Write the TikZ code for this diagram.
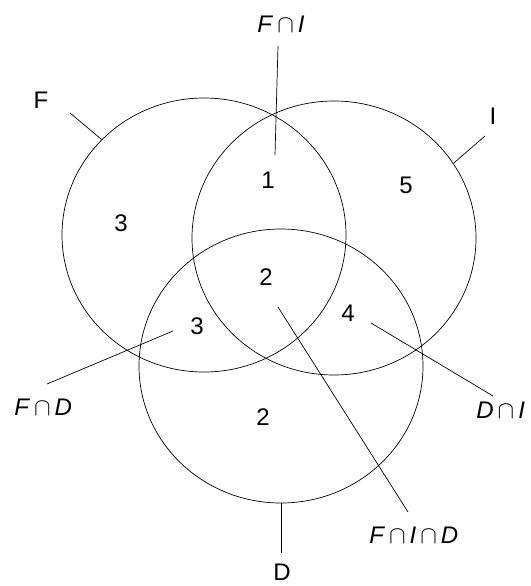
\documentclass[tikz,border=0pt]{standalone}
\usepackage{fontspec}
\setmainfont{Liberation Sans}
\usetikzlibrary{shapes.geometric}
\newcommand{\capsym}{\,$\cap$\,}

\begin{document}
\begin{tikzpicture}[x=1pt,y=-1pt,line width=0.7pt,
  set/.style={ellipse,draw,minimum width=284pt,minimum height=274pt,inner sep=0pt},
  num/.style={font=\fontsize{24}{28}\selectfont,inner sep=0pt},
  lab/.style={font=\fontsize{24}{28}\selectfont,inner sep=0pt}]
\useasboundingbox (0,0) rectangle (530,586);

% the three sets
\node[set] (F) at (204,235) {};
\node[set] (I) at (334,238) {};
\node[set] (D) at (281,366) {};

% counts in the regions
\node[num] (nF)   at (121,223) {3};
\node[num] (nFI)  at (268,180) {1};
\node[num] (nI)   at (406,185) {5};
\node[num] (nFID) at (266,277) {2};
\node[num] (nFD)  at (197,326) {3};
\node[num] (nDI)  at (348,313) {4};
\node[num] (nD)   at (263,417) {2};

% names of the sets and regions
\node[lab] (lF)   at (41,100)  {F};
\node[lab] (lI)   at (493,116) {I};
\node[lab] (lD)   at (282,572) {D};
\node[lab] (lFI)  at (281,24)  {\textit{F}\capsym\textit{I}};
\node[lab,anchor=west] (lFD)  at (14,407)  {\textit{F}\capsym\textit{D}};
\node[lab,anchor=west] (lDI)  at (476,410) {\textit{D}\capsym\textit{I}};
\node[lab,anchor=west] (lFID) at (369,535) {\textit{F}\capsym\textit{I}\capsym\textit{D}};

% ends of the pointers
\coordinate (pF)    at (70,113);
\coordinate (pI)    at (485,136);
\coordinate (pD)    at (281,553);
\coordinate (pFI)   at (278,46);
\coordinate (pFIin) at (275,155);
\coordinate (pFD)   at (47,384);
\coordinate (pFDin) at (173,331);
\coordinate (pDI)   at (493,396);
\coordinate (pDIin) at (371,323);
\coordinate (pFID)  at (408,512);
\coordinate (pFIDin) at (278,307);

\draw (pF) -- (F.137);
\draw (pI) -- (I.32);
\draw (D.south) -- (pD);
\draw (pFI) -- (pFIin);
\draw (pFD) -- (pFDin);
\draw (pDI) -- (pDIin);
\draw (pFID) -- (pFIDin);
\end{tikzpicture}
\end{document}
